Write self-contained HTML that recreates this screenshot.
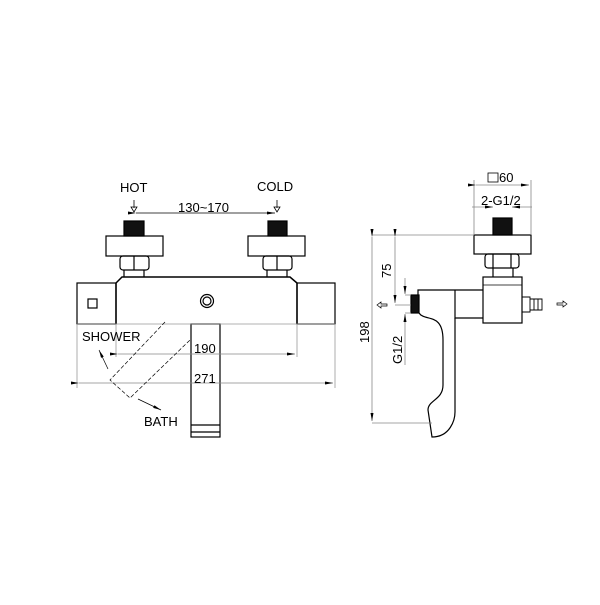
<!DOCTYPE html>
<html><head><style>body{margin:0;background:#fff}</style></head><body>
<svg width="600" height="600" viewBox="0 0 600 600" xmlns="http://www.w3.org/2000/svg" font-family="Liberation Sans, sans-serif" font-size="13">
<rect width="600" height="600" fill="#fff"/>
<defs>
<marker id="a" markerWidth="8" markerHeight="6" refX="8" refY="3" orient="auto" markerUnits="userSpaceOnUse"><path d="M0,1.5 L8,3 L0,4.5z" fill="#000"/></marker>
</defs>
<g stroke="#000" fill="none" stroke-width="1.2">
<text x="120" y="192" stroke="none" fill="#000">HOT</text>
<text x="257" y="191" stroke="none" fill="#000">COLD</text>
<text x="178" y="212" stroke="none" fill="#000">130~170</text>
<path d="M134,200 v8 M131,207 l3,5 l3,-5z M277,200 v8 M274,207 l3,5 l3,-5z" stroke-width="0.8"/>
<line x1="136" y1="213" x2="275" y2="213" stroke-width="0.7" marker-start="url(#a)" marker-end="url(#a)"/>
<rect x="124" y="221" width="20" height="15" fill="#111"/>
<rect x="268" y="221" width="19" height="15" fill="#111"/>
<rect x="106" y="236" width="57" height="20"/>
<rect x="248" y="236" width="57" height="20"/>
<rect x="120" y="256" width="29" height="14" rx="3"/><line x1="134" y1="256" x2="134" y2="270"/>
<rect x="263" y="256" width="29" height="14" rx="3"/><line x1="277" y1="256" x2="277" y2="270"/>
<path d="M124,270v7 M144,270v7 M267,270v7 M287,270v7"/>
<path d="M116,324 V283 L122,277 H290 L297,283 V324" stroke-width="1.5"/>
<rect x="77" y="283" width="39" height="41"/>
<rect x="297" y="283" width="38" height="41"/>
<rect x="88" y="299" width="9" height="9"/>
<circle cx="207" cy="301" r="6.5"/><circle cx="207" cy="301" r="4"/>
<rect x="191" y="324" width="29" height="113"/>
<line x1="191" y1="425" x2="220" y2="425"/><line x1="191" y1="432" x2="220" y2="432"/>
</g>
<g stroke="#999" stroke-width="0.8" fill="none">
<line x1="77" y1="324" x2="335" y2="324"/>
<path d="M116,324V357 M297,324V357 M77,324V388 M335,324V388"/>
</g>
<line x1="118" y1="354" x2="295" y2="354" stroke="#888" stroke-width="0.8" marker-start="url(#a)" marker-end="url(#a)"/>
<line x1="79" y1="383" x2="333" y2="383" stroke="#888" stroke-width="0.8" marker-start="url(#a)" marker-end="url(#a)"/>
<text x="194" y="353" fill="#000">190</text>
<text x="194" y="383" fill="#000">271</text>
<g stroke="#000" stroke-width="0.7" fill="none" stroke-dasharray="4,2">
<path d="M165,322 L110,380 L130,398 L190,340"/>
</g>
<text x="82" y="341" fill="#000">SHOWER</text>
<text x="144" y="426" fill="#000">BATH</text>
<line x1="108" y1="369" x2="99" y2="350" stroke="#000" stroke-width="0.7" marker-end="url(#a)"/>
<line x1="138" y1="399" x2="161" y2="410" stroke="#000" stroke-width="0.7" marker-end="url(#a)"/>
<g stroke="#000" fill="none" stroke-width="1.2">
<rect x="488" y="173" width="10" height="9" stroke-width="0.8"/>
<rect x="493" y="218" width="19" height="17" fill="#111"/>
<rect x="474" y="235" width="57" height="19"/>
<rect x="485" y="254" width="34" height="14" rx="3"/>
<path d="M493,254v14 M511,254v14 M493,268v9 M513,268v9"/>
<rect x="483" y="277" width="39" height="46"/>
<line x1="483" y1="285" x2="522" y2="285" stroke-width="0.8"/>
<path d="M483,290 H418 V295 M455,290 V318 H483"/>
<rect x="411" y="295" width="8" height="18" fill="#111"/>
<path d="M419,313 C425,322 443,312 443,340 V385 C443,400 428,400 428,410 L432,437 C450,437 455,420 455,412 V318"/>
<path d="M522,297 h8 v15 h-8 M530,299 h12 v11 h-12 M534,299v11 M538,299v11" stroke-width="0.9"/>
<path d="M557,303 h6 v-2 l4,3 l-4,3 v-2 h-6z M387,304 h-6 v-2 l-4,3 l4,3 v-2 h6z" stroke-width="0.7"/>
</g>
<text x="499" y="182" fill="#000">60</text>
<text x="481" y="205" fill="#000">2-G1/2</text>
<g stroke="#888" stroke-width="0.8" fill="none">
<path d="M474,180V235 M531,180V235 M372,235H474 M395,235H474 M372,423H432 M395,305H411 M405,295H411 M405,313H411"/>
</g>
<line x1="476" y1="185" x2="529" y2="185" stroke="#888" stroke-width="0.8" marker-start="url(#a)" marker-end="url(#a)"/>
<line x1="472" y1="207" x2="493" y2="207" stroke="#888" stroke-width="0.8" marker-end="url(#a)"/>
<line x1="532" y1="207" x2="512" y2="207" stroke="#888" stroke-width="0.8" marker-end="url(#a)"/>
<line x1="372" y1="237" x2="372" y2="421" stroke="#888" stroke-width="0.8" marker-start="url(#a)" marker-end="url(#a)"/>
<line x1="395" y1="237" x2="395" y2="303" stroke="#888" stroke-width="0.8" marker-start="url(#a)" marker-end="url(#a)"/>
<line x1="405" y1="278" x2="405" y2="294" stroke="#888" stroke-width="0.8" marker-end="url(#a)"/>
<line x1="405" y1="365" x2="405" y2="314" stroke="#888" stroke-width="0.8" marker-end="url(#a)"/>
<text transform="translate(369,343) rotate(-90)" fill="#000">198</text>
<text transform="translate(391,278) rotate(-90)" fill="#000">75</text>
<text transform="translate(402,364) rotate(-90)" fill="#000">G1/2</text>
</svg>
</body></html>
